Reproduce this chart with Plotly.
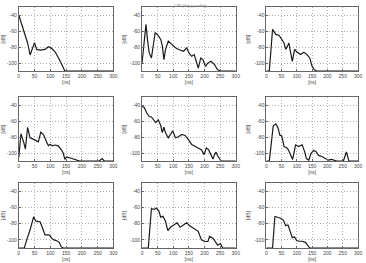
import plotly.graph_objects as go

# delay [ns] and power [dB] per panel (row-major order)
t1 = [0, 10, 21, 28, 36, 42, 50, 57, 68, 83, 94, 104, 115, 130, 146, 300]
p1 = [-40, -52, -65, -75, -90, -84, -74.5, -83, -84, -83, -79.6, -81.7, -86, -96.6, -110, -110]

t2 = [0, 4, 12.5, 18, 23, 30, 42, 49, 60, 65, 70, 75, 84, 96, 107, 117, 133, 143, 150, 159, 167, 180, 188, 195, 203, 211, 221, 232, 242, 253, 300]
p2 = [-100, -83, -51.7, -72.7, -87.4, -93.7, -62.2, -64.3, -70.6, -79, -95.8, -83.2, -72.7, -77, -81, -83.2, -85.3, -81, -87.4, -91.6, -89.5, -106.3, -93.7, -95.8, -104.2, -100, -97.9, -102, -108.4, -110, -110]

t3 = [0, 9.7, 20.4, 31, 42, 49.5, 58, 63.4, 69, 74, 79.6, 85, 92.5, 101, 112, 122.6, 133, 142, 149.5, 157, 165.6, 300]
p3 = [-110, -110, -58, -64.3, -65.6, -70, -75, -83, -79, -75, -87.4, -98, -83, -86.6, -89.5, -86.6, -89.5, -93.7, -104, -108.4, -110, -110]

t4 = [0, 7, 16, 21, 28, 36, 47, 57, 62, 70, 78, 89, 94, 99, 106, 115, 125, 135, 141, 146, 151, 161, 182, 193, 255, 264, 271, 300]
p4 = [-106, -76, -87, -95, -68, -81, -83, -85, -86, -74, -77, -87, -91, -89, -91, -90, -91, -96, -100, -108, -105, -106, -108, -110, -110, -107, -110, -110]

t5 = [0, 7, 15, 23, 30, 39, 44, 52, 60, 65, 70, 75, 84, 91, 98, 107, 117, 127, 138, 148, 159, 169, 182, 190, 198.5, 206, 213, 221.5, 227, 232, 237, 242, 253, 300]
p5 = [-41.7, -43, -50, -54.4, -55, -60, -62, -58.5, -66, -74.6, -67.6, -74.6, -81, -76.8, -72.3, -81, -79.7, -76.8, -78, -83, -89.5, -91.6, -93.7, -95.8, -102, -93.7, -95.8, -104.3, -107.6, -102, -99, -103.4, -110, -110]

t6 = [0, 9.7, 15, 22.6, 31, 38.7, 44, 50.5, 58, 66.7, 72, 80, 86, 95.7, 106, 117, 125, 131, 139, 146, 155, 163.4, 171, 181.7, 192.5, 203, 214, 230, 252, 262, 270, 300]
p6 = [-110, -110, -92, -66, -63.6, -69, -77.5, -78.7, -92, -93.5, -96, -103, -108, -89.8, -92, -89.8, -98, -107, -109, -100.8, -96.6, -98.7, -103, -104.4, -107, -109, -108, -110, -110, -98.7, -110, -110]

t7 = [0, 17.7, 26, 36.5, 47, 54, 62.5, 68, 75, 83, 94, 99, 104, 111.5, 120, 128, 135, 140.6, 300]
p7 = [-110, -110, -99, -87, -71.7, -76.7, -77.5, -78, -85, -93.8, -93.8, -95, -97.9, -100, -101, -103, -108.7, -110, -110]

t8 = [0, 20, 30, 38.6, 46, 54, 59.6, 67, 75, 82.5, 91, 101, 112, 122, 133, 143, 153.6, 164, 180, 190, 200.6, 211, 216, 227, 237, 242, 251, 258, 300]
p8 = [-110, -110, -61.7, -62.5, -60.8, -64.6, -72, -71, -77, -88.5, -84.5, -81.5, -79, -84.5, -81.5, -79, -83, -85.8, -89.5, -100, -102, -102, -95.8, -98, -103.5, -106.5, -104.5, -110, -110]

t9 = [0, 20.4, 28, 36.6, 47, 56, 63.4, 71, 77.4, 85, 92.5, 99, 106.5, 117, 128, 133, 142, 300]
p9 = [-110, -110, -71.2, -72, -73.3, -76, -82.5, -81.7, -88.9, -97.3, -96.5, -100.8, -101.7, -101.7, -103, -106, -110, -110]

x_ticks = [0, 50, 100, 150, 200, 250, 300]
y_ticks = [-40, -60, -80, -100]
x_label = "[ns]"
y_label = "[dB]"
title_text = "CIR (delay profile)"

series = [(t1, p1), (t2, p2), (t3, p3), (t4, p4), (t5, p5), (t6, p6), (t7, p7), (t8, p8), (t9, p9)]

W, H = 366, 263
col_px = [(18, 114), (143, 238), (269, 362)]
row_px = [(7, 71), (97, 161), (183, 248)]

fig = go.Figure()
font = dict(family="Liberation Sans, Arial, sans-serif", size=5, color="#444")

for i, (t, p) in enumerate(series):
    r, c = divmod(i, 3)
    n = "" if i == 0 else str(i + 1)
    fig.add_trace(go.Scatter(x=t, y=p, mode="lines",
                             line=dict(color="#1a1a1a", width=1.2),
                             xaxis="x" + n, yaxis="y" + n, showlegend=False,
                             cliponaxis=True))
    xd = [col_px[c][0] / W, col_px[c][1] / W]
    yd = [1 - row_px[r][1] / H, 1 - row_px[r][0] / H]
    common = dict(showline=True, mirror=True, linecolor="#666", linewidth=0.8,
                  showgrid=True, gridcolor="#b0b0b0", griddash="1px,2px", gridwidth=0.8,
                  ticks="inside", ticklen=2, tickcolor="#666", tickfont=font,
                  zeroline=False)
    fig.layout["xaxis" + n] = dict(domain=xd, anchor="y" + n, range=[0, 300],
                                   tickvals=x_ticks, ticktext=[str(v) for v in x_ticks],
                                   title=dict(text=x_label, font=font, standoff=1),
                                   **common)
    fig.layout["yaxis" + n] = dict(domain=yd, anchor="x" + n, range=[-110, -30],
                                   tickvals=y_ticks, ticktext=[str(v) for v in y_ticks],
                                   title=dict(text=y_label, font=font, standoff=3),
                                   **common)

fig.add_annotation(text=title_text, x=192 / W, y=1 - 1 / H, xref="paper", yref="paper",
                   xanchor="center", yanchor="top", showarrow=False,
                   font=dict(family="Liberation Sans, Arial, sans-serif", size=4, color="#888"))

fig.update_layout(width=W, height=H, autosize=False,
                  margin=dict(l=0, r=0, t=0, b=0),
                  paper_bgcolor="white", plot_bgcolor="white")

fig.write_html("out.html")
